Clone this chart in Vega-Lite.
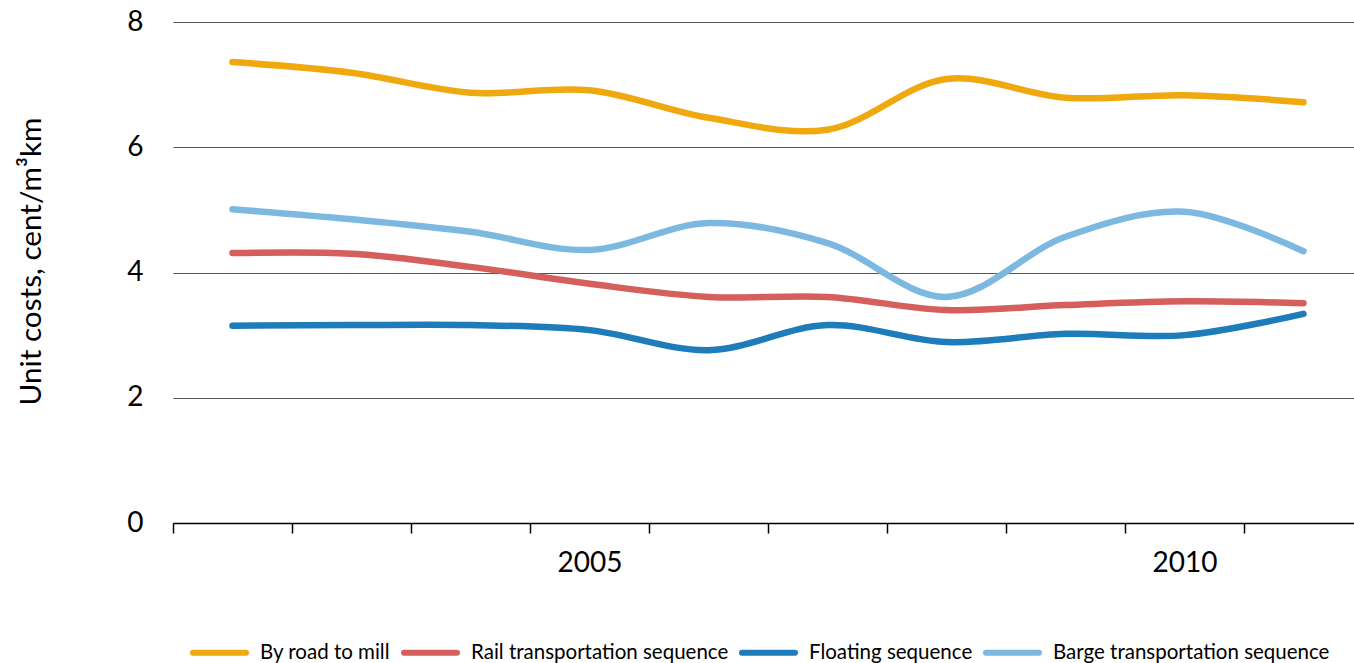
{
  "$schema": "https://vega.github.io/schema/vega-lite/v6.json",
  "autosize": {"type": "none"},
  "width": 1190,
  "height": 501,
  "padding": {"left": 173, "top": 22, "right": 0, "bottom": 140},
  "config": {"view": {"stroke": null}, "font": "Lato"},
  "data": {"values": [
    {"year": 2002, "series": "By road to mill", "value": 7.36},
    {"year": 2003, "series": "By road to mill", "value": 7.19},
    {"year": 2004, "series": "By road to mill", "value": 6.87},
    {"year": 2005, "series": "By road to mill", "value": 6.91},
    {"year": 2006, "series": "By road to mill", "value": 6.47},
    {"year": 2007, "series": "By road to mill", "value": 6.28},
    {"year": 2008, "series": "By road to mill", "value": 7.09},
    {"year": 2009, "series": "By road to mill", "value": 6.79},
    {"year": 2010, "series": "By road to mill", "value": 6.83},
    {"year": 2011, "series": "By road to mill", "value": 6.72},
    {"year": 2002, "series": "Rail transportation sequence", "value": 4.31},
    {"year": 2003, "series": "Rail transportation sequence", "value": 4.30},
    {"year": 2004, "series": "Rail transportation sequence", "value": 4.09},
    {"year": 2005, "series": "Rail transportation sequence", "value": 3.82},
    {"year": 2006, "series": "Rail transportation sequence", "value": 3.61},
    {"year": 2007, "series": "Rail transportation sequence", "value": 3.61},
    {"year": 2008, "series": "Rail transportation sequence", "value": 3.40},
    {"year": 2009, "series": "Rail transportation sequence", "value": 3.48},
    {"year": 2010, "series": "Rail transportation sequence", "value": 3.54},
    {"year": 2011, "series": "Rail transportation sequence", "value": 3.51},
    {"year": 2002, "series": "Floating sequence", "value": 3.15},
    {"year": 2003, "series": "Floating sequence", "value": 3.16},
    {"year": 2004, "series": "Floating sequence", "value": 3.16},
    {"year": 2005, "series": "Floating sequence", "value": 3.08},
    {"year": 2006, "series": "Floating sequence", "value": 2.76},
    {"year": 2007, "series": "Floating sequence", "value": 3.16},
    {"year": 2008, "series": "Floating sequence", "value": 2.89},
    {"year": 2009, "series": "Floating sequence", "value": 3.02},
    {"year": 2010, "series": "Floating sequence", "value": 3.00},
    {"year": 2011, "series": "Floating sequence", "value": 3.34},
    {"year": 2002, "series": "Barge transportation sequence", "value": 5.01},
    {"year": 2003, "series": "Barge transportation sequence", "value": 4.85},
    {"year": 2004, "series": "Barge transportation sequence", "value": 4.65},
    {"year": 2005, "series": "Barge transportation sequence", "value": 4.36},
    {"year": 2006, "series": "Barge transportation sequence", "value": 4.79},
    {"year": 2007, "series": "Barge transportation sequence", "value": 4.47},
    {"year": 2008, "series": "Barge transportation sequence", "value": 3.61},
    {"year": 2009, "series": "Barge transportation sequence", "value": 4.57},
    {"year": 2010, "series": "Barge transportation sequence", "value": 4.97},
    {"year": 2011, "series": "Barge transportation sequence", "value": 4.34}
  ]},
  "mark": {"type": "line", "interpolate": "catmull-rom", "strokeWidth": 6.5, "strokeCap": "round", "strokeJoin": "round"},
  "encoding": {
    "x": {
      "field": "year", "type": "quantitative",
      "scale": {"domain": [2001.5, 2011.5], "nice": false, "zero": false},
      "axis": {
        "title": null,
        "grid": false,
        "values": [2001.5, 2002.5, 2003.5, 2004.5, 2005.5, 2006.5, 2007.5, 2008.5, 2009.5, 2010.5, 2011.5],
        "labelExpr": "datum.value == 2004.5 ? '2005' : (datum.value == 2009.5 ? '2010' : '')",
        "labelOffset": 59.5,
        "domainColor": "#000000",
        "domainWidth": 1.5,
        "tickColor": "#000000",
        "tickWidth": 1.5,
        "tickSize": 10,
        "labelFontSize": 28,
        "labelColor": "#000000",
        "labelPadding": 16,
        "labelFlush": false,
        "labelOverlap": false,
        "labelBound": false
      }
    },
    "y": {
      "field": "value", "type": "quantitative",
      "scale": {"domain": [0, 8], "nice": false},
      "axis": {
        "title": "Unit costs, cent/m³km",
        "titleFontSize": 29.7,
        "titleFontWeight": "normal",
        "titleColor": "#000000",
        "titlePadding": 80,
        "titleY": 239,
        "values": [0, 2, 4, 6, 8],
        "domain": false,
        "ticks": false,
        "labelFontSize": 28,
        "labelColor": "#000000",
        "labelPadding": 30,
        "gridColor": "#555555",
        "gridWidth": 1
      }
    },
    "color": {
      "field": "series", "type": "nominal",
      "scale": {
        "domain": ["By road to mill", "Rail transportation sequence", "Floating sequence", "Barge transportation sequence"],
        "range": ["#F0A80F", "#D45F5C", "#1E7CBA", "#7DB8E0"]
      },
      "legend": {
        "title": null,
        "orient": "none",
        "direction": "horizontal",
        "legendX": 17,
        "legendY": 601,
        "symbolType": "stroke",
        "symbolSize": 2809,
        "symbolStrokeWidth": 6,
        "labelFontSize": 20.5,
        "labelColor": "#000000",
        "labelOffset": 11,
        "columnPadding": 1,
        "labelLimit": 400,
        "encode": {"symbols": {"update": {"strokeCap": {"value": "round"}}}}
      }
    }
  }
}
